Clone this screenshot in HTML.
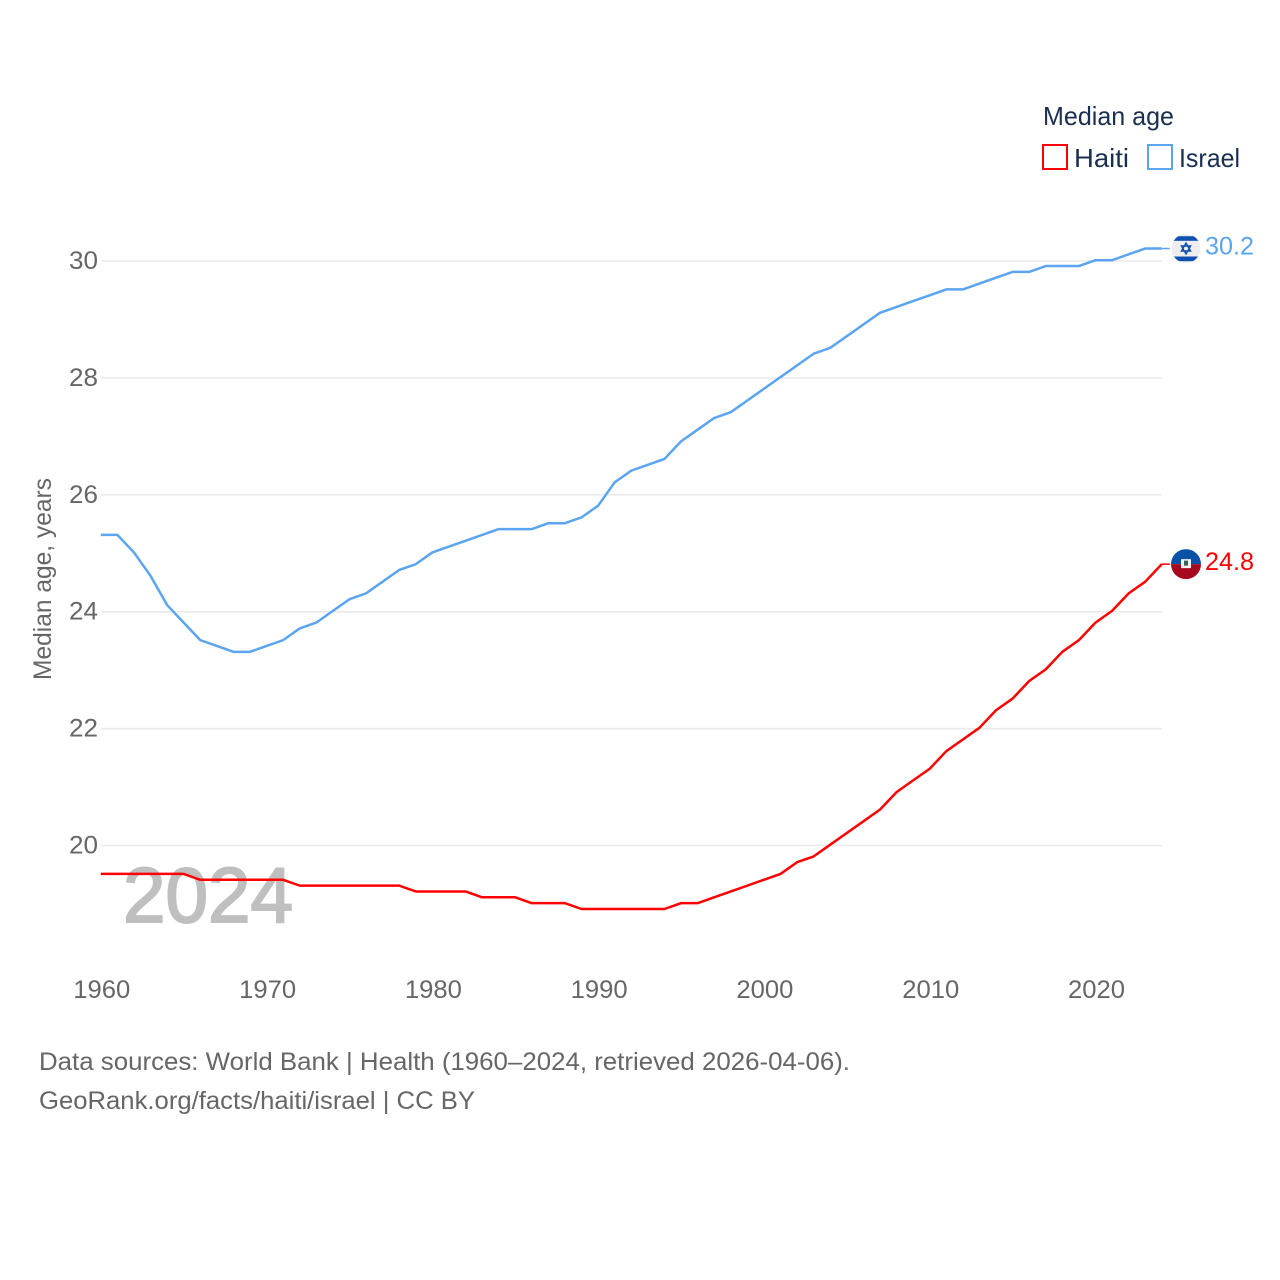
<!DOCTYPE html>
<html lang="en">
<head>
<meta charset="utf-8">
<title>Median age: Haiti and Israel</title>
<style>
html,body{margin:0;padding:0;background:#fff;width:1280px;height:1280px;overflow:hidden}
svg{display:block}
text{font-family:"Liberation Sans",sans-serif}
</style>
</head>
<body>
<svg id="chart" xmlns="http://www.w3.org/2000/svg" width="1280" height="1280" viewBox="0 0 1280 1280">
  <defs>
    <clipPath id="flag-clip-il"><circle cx="0" cy="0" r="14.5"/></clipPath>
    <clipPath id="flag-clip-ht"><circle cx="0" cy="0" r="15"/></clipPath>
  </defs>
  <rect x="0" y="0" width="1280" height="1280" fill="#ffffff"/>
  <g id="grid"></g>
  <g id="yticks"></g>
  <g id="xticks"></g>
  <text x="123" y="922" font-size="78" font-weight="400" fill="#bfbfbf" stroke="#bfbfbf" stroke-width="2" textLength="170" lengthAdjust="spacingAndGlyphs">2024</text>
  <text transform="translate(51,680) rotate(-90)" font-size="25" fill="#666666" textLength="202" lengthAdjust="spacingAndGlyphs">Median age, years</text>
  <g id="series"></g>

  <text x="1043" y="125" font-size="26" fill="#1a2f4f" textLength="131" lengthAdjust="spacingAndGlyphs">Median age</text>
  <rect x="1043" y="145" width="24" height="24" fill="none" stroke="#ff0000" stroke-width="2"/>
  <text x="1074" y="167" font-size="26" fill="#1a2f4f" textLength="55" lengthAdjust="spacingAndGlyphs">Haiti</text>
  <rect x="1148" y="145" width="24" height="24" fill="none" stroke="#5ba4f0" stroke-width="2"/>
  <text x="1179" y="167" font-size="26" fill="#1a2f4f" textLength="61" lengthAdjust="spacingAndGlyphs">Israel</text>

  <g id="flag-israel">
    <g clip-path="url(#flag-clip-il)">
      <rect x="-15" y="-15" width="30" height="30" fill="#eeeeee"/>
      <rect x="-15" y="-12.3" width="30" height="4.6" fill="#0f4fb0"/>
      <rect x="-15" y="8" width="30" height="4.7" fill="#0f4fb0"/>
      <polygon points="0,-5.5 4.6,2.5 -4.6,2.5" fill="none" stroke="#0f4fb0" stroke-width="1.4"/>
      <polygon points="0,5.5 4.6,-2.5 -4.6,-2.5" fill="none" stroke="#0f4fb0" stroke-width="1.4"/>
    </g>
  </g>
  <g id="flag-haiti">
    <g clip-path="url(#flag-clip-ht)">
      <rect x="-15" y="-15" width="30" height="15" fill="#0a52a8"/>
      <rect x="-15" y="0" width="30" height="15" fill="#a6081f"/>
      <rect x="-5" y="-5" width="10" height="9" fill="#f2f2f2"/>
      <rect x="-2" y="-3.5" width="4" height="5" fill="#3c5f5a"/>
    </g>
  </g>
  <text id="end-label-israel" x="1205" font-size="25" fill="#5ba4f0" textLength="49" lengthAdjust="spacingAndGlyphs"></text>
  <text id="end-label-haiti" x="1205" font-size="25" fill="#ff0000" textLength="49" lengthAdjust="spacingAndGlyphs"></text>

  <text x="39" y="1070" font-size="25" fill="#666666" textLength="811" lengthAdjust="spacingAndGlyphs">Data sources: World Bank | Health (1960–2024, retrieved 2026-04-06).</text>
  <text x="39" y="1109" font-size="25" fill="#666666" textLength="436" lengthAdjust="spacingAndGlyphs">GeoRank.org/facts/haiti/israel | CC BY</text>
</svg>
<script>
const years = [1960,1961,1962,1963,1964,1965,1966,1967,1968,1969,1970,1971,1972,1973,1974,1975,1976,1977,1978,1979,1980,1981,1982,1983,1984,1985,1986,1987,1988,1989,1990,1991,1992,1993,1994,1995,1996,1997,1998,1999,2000,2001,2002,2003,2004,2005,2006,2007,2008,2009,2010,2011,2012,2013,2014,2015,2016,2017,2018,2019,2020,2021,2022,2023,2024];
const israelValues = [25.3,25.3,25.0,24.6,24.1,23.8,23.5,23.4,23.3,23.3,23.4,23.5,23.7,23.8,24.0,24.2,24.3,24.5,24.7,24.8,25.0,25.1,25.2,25.3,25.4,25.4,25.4,25.5,25.5,25.6,25.8,26.2,26.4,26.5,26.6,26.9,27.1,27.3,27.4,27.6,27.8,28.0,28.2,28.4,28.5,28.7,28.9,29.1,29.2,29.3,29.4,29.5,29.5,29.6,29.7,29.8,29.8,29.9,29.9,29.9,30.0,30.0,30.1,30.2,30.2];
const haitiValues = [19.5,19.5,19.5,19.5,19.5,19.5,19.4,19.4,19.4,19.4,19.4,19.4,19.3,19.3,19.3,19.3,19.3,19.3,19.3,19.2,19.2,19.2,19.2,19.1,19.1,19.1,19.0,19.0,19.0,18.9,18.9,18.9,18.9,18.9,18.9,19.0,19.0,19.1,19.2,19.3,19.4,19.5,19.7,19.8,20.0,20.2,20.4,20.6,20.9,21.1,21.3,21.6,21.8,22.0,22.3,22.5,22.8,23.0,23.3,23.5,23.8,24.0,24.3,24.5,24.8];
const yTicks = [20,22,24,26,28,30];
const xTicks = [1960,1970,1980,1990,2000,2010,2020];

const NS = 'http://www.w3.org/2000/svg';
function xScale(year){ return 100.8 + (year - 1960) * (1161.8 - 100.8) / 64; }
function yScale(v){ return 845.5 - (v - 20) * (845.5 - 261) / 10; }
function make(tag, attrs){
  const el = document.createElementNS(NS, tag);
  for (const k in attrs) el.setAttribute(k, attrs[k]);
  return el;
}

const grid = document.getElementById('grid');
const yG = document.getElementById('yticks');
yTicks.forEach(function(t){
  const line = make('line', {x1:101, x2:1162, y1:yScale(t), y2:yScale(t), stroke:'#e9e9e9', 'stroke-width':1.5});
  
  
  grid.appendChild(line);
  const label = make('text', {x:98, y:yScale(t)+8, 'text-anchor':'end', 'font-size':25, fill:'#666666', textLength:29, lengthAdjust:'spacingAndGlyphs'});
  
  
  label.textContent = String(t);
  yG.appendChild(label);
});

const xG = document.getElementById('xticks');
xTicks.forEach(function(t){
  const label = make('text', {x:xScale(t)-27.5, y:998, 'font-size':25, fill:'#666666', textLength:57, lengthAdjust:'spacingAndGlyphs'});
  
  
  label.textContent = String(t);
  xG.appendChild(label);
});

function lineString(values){
  return values.map(function(v, i){ return xScale(years[i]).toFixed(2) + ',' + (yScale(v) - 0.8).toFixed(2); }).join(' ');
}
const seriesG = document.getElementById('series');

const haitiLine = make('polyline', {points:lineString(haitiValues), fill:'none', stroke:'#ff0000', 'stroke-width':2.5, 'stroke-linejoin':'round'});


seriesG.appendChild(haitiLine);

const israelLine = make('polyline', {points:lineString(israelValues), fill:'none', stroke:'#5ba4f0', 'stroke-width':2.5, 'stroke-linejoin':'round'});


seriesG.appendChild(israelLine);

function endCap(values, color, name, flagId, labelId){
  const last = values[values.length - 1];
  const y = yScale(last) - 0.8;
  const x = xScale(years[years.length - 1]);
  const conn = make('line', {x1:x, x2:x+8, y1:y, y2:y, stroke:color, 'stroke-width':1.5});
  
  
  seriesG.appendChild(conn);
  document.getElementById(flagId).setAttribute('transform', 'translate(1186,' + y.toFixed(2) + ')');
  const label = document.getElementById(labelId);
  label.setAttribute('y', (y + 6).toFixed(2));
  label.textContent = last.toFixed(1);
}
endCap(israelValues, '#5ba4f0', 'israel-end-connector', 'flag-israel', 'end-label-israel');
endCap(haitiValues, '#ff0000', 'haiti-end-connector', 'flag-haiti', 'end-label-haiti');
</script>
</body>
</html>
